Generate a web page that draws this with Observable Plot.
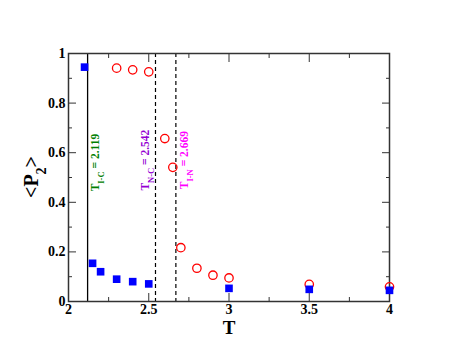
<!DOCTYPE html>
<html>
<head>
<meta charset="utf-8">
<script src="https://cdn.jsdelivr.net/npm/d3@7"></script>
<script src="https://cdn.jsdelivr.net/npm/@observablehq/plot@0.6"></script>
<style>
  html, body { margin: 0; padding: 0; background: #fff; }
  svg { display: block; }
</style>
</head>
<body>
<div id="chart"></div>
<script>
// Blue squares
const squareT = [2.1, 2.15, 2.2, 2.3, 2.4, 2.5, 3.0, 3.5, 4.0];
const squareP2 = [0.945, 0.154, 0.120, 0.090, 0.080, 0.071, 0.053, 0.049, 0.045];
// Red open circles
const circleT = [2.3, 2.4, 2.5, 2.6, 2.65, 2.7, 2.8, 2.9, 3.0, 3.5, 4.0];
const circleP2 = [0.941, 0.934, 0.926, 0.657, 0.541, 0.217, 0.134, 0.106, 0.095, 0.069, 0.059];
// Transition temperatures
const transT = [2.119, 2.542, 2.669];
const transName = ["I-C", "N-C", "I-N"];
const transColor = ["#008000", "#9400d3", "#ff00ff"];
const transDashed = [false, true, true];
const transLabelY = [0.56, 0.57, 0.57];
// Ticks
const xMajor = [2, 2.5, 3, 3.5, 4];
const xMinor = [2.25, 2.75, 3.25, 3.75];
const yMajor = [0, 0.2, 0.4, 0.6, 0.8, 1];
const yMinor = [0.1, 0.3, 0.5, 0.7, 0.9];

const squares = squareT.map((t, i) => ({T: t, P: squareP2[i]}));
const circles = circleT.map((t, i) => ({T: t, P: circleP2[i]}));
const trans = transT.map((t, i) => ({T: t, name: transName[i], color: transColor[i], dashed: transDashed[i], ly: transLabelY[i]}));
const labelDx = [8, -10, 8];

const font = "'Liberation Serif', 'Times New Roman', serif";

const plot = Plot.plot({
  width: 458,
  height: 354,
  marginLeft: 68,
  marginRight: 69,
  marginTop: 53,
  marginBottom: 53,
  style: {fontFamily: font, background: "#fff"},
  x: {domain: [2, 4]},
  y: {domain: [0, 1]},
  marks: [
    Plot.ruleX(trans.filter(d => !d.dashed), {x: "T", stroke: "#000", strokeWidth: 1.3}),
    Plot.ruleX(trans.filter(d => d.dashed), {x: "T", stroke: "#000", strokeWidth: 1.2, strokeDasharray: "4,3"}),
    Plot.axisX(xMajor, {anchor: "bottom", tickSize: 0, tickPadding: 3, tickFormat: d => String(d), fontSize: 14, fontWeight: "bold", fill: "#000", label: null}),
    Plot.axisY(yMajor, {anchor: "left", tickSize: 0, tickPadding: 3, tickFormat: d => String(d), fontSize: 14, fontWeight: "bold", fill: "#000", label: null}),
    Plot.axisX(xMajor, {anchor: "bottom", tickSize: -8, text: null, label: null, stroke: "#333"}),
    Plot.axisX(xMinor, {anchor: "bottom", tickSize: -4, text: null, label: null, stroke: "#333"}),
    Plot.axisX(xMajor, {anchor: "top", tickSize: -8, text: null, label: null, stroke: "#333"}),
    Plot.axisX(xMinor, {anchor: "top", tickSize: -4, text: null, label: null, stroke: "#333"}),
    Plot.axisY(yMajor, {anchor: "left", tickSize: -8, text: null, label: null, stroke: "#333"}),
    Plot.axisY(yMinor, {anchor: "left", tickSize: -4, text: null, label: null, stroke: "#333"}),
    Plot.axisY(yMajor, {anchor: "right", tickSize: -8, text: null, label: null, stroke: "#333"}),
    Plot.axisY(yMinor, {anchor: "right", tickSize: -4, text: null, label: null, stroke: "#333"}),
    Plot.frame({stroke: "#333", strokeWidth: 1.5}),
    Plot.dot(circles, {x: "T", y: "P", r: 4.2, stroke: "#ff0000", strokeWidth: 1.3, fill: "none"}),
    Plot.dot(squares, {x: "T", y: "P", symbol: "square", r: 4.3, fill: "#0000ff", stroke: "none"}),
    ...trans.map((d, i) => Plot.text([d], {
      x: "T", y: "ly", dx: labelDx[i],
      text: e => "T" + e.name + " = " + e.T,
      fill: d.color, rotate: -90, fontSize: 11.5, fontWeight: "bold",
      textAnchor: "middle", className: "translabel"
    }))
  ]
});

document.getElementById("chart").appendChild(plot);

const svg = d3.select(plot);
svg.selectAll("g.translabel text").each(function(d, i) {
  const e = trans[i];
  const t = d3.select(this);
  t.text(null);
  t.append("tspan").text("T");
  t.append("tspan").attr("baseline-shift", "sub").attr("font-size", 8.5).text(e.name);
  t.append("tspan").text(" = " + e.T);
});

svg.append("text")
  .attr("x", 229).attr("y", 334)
  .attr("text-anchor", "middle")
  .attr("font-family", font).attr("font-weight", "bold").attr("font-size", 19)
  .text("T");
const yl = svg.append("text")
  .attr("transform", "translate(38,177) rotate(-90)")
  .attr("text-anchor", "middle")
  .attr("font-family", font).attr("font-weight", "bold").attr("font-size", 20);
yl.append("tspan").text("<P");
yl.append("tspan").attr("baseline-shift", "sub").attr("font-size", 14).text("2");
yl.append("tspan").text(">");
</script>
</body>
</html>
